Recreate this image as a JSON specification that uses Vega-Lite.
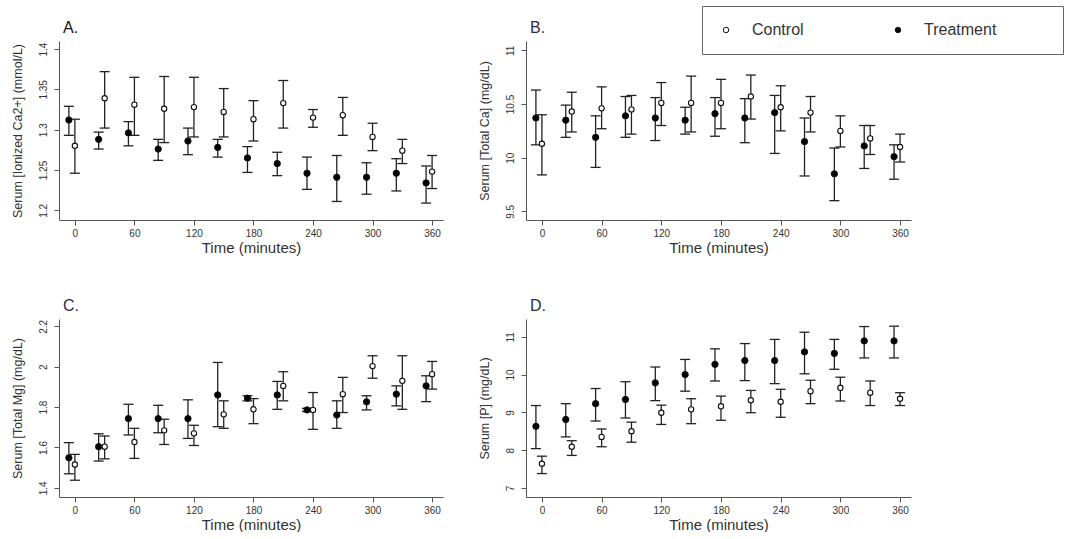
{
"$schema": "https://vega.github.io/schema/vega-lite/v6.json",
"padding": {"left": 11, "top": 5, "right": 0, "bottom": 0},
"background": "white",
"datasets": {
"A": [
{"t":0,"g":"Treatment","m":1.312,"lo":1.293,"hi":1.329},
{"t":30,"g":"Treatment","m":1.288,"lo":1.276,"hi":1.297},
{"t":60,"g":"Treatment","m":1.296,"lo":1.280,"hi":1.310},
{"t":90,"g":"Treatment","m":1.276,"lo":1.262,"hi":1.288},
{"t":120,"g":"Treatment","m":1.286,"lo":1.269,"hi":1.302},
{"t":150,"g":"Treatment","m":1.278,"lo":1.266,"hi":1.288},
{"t":180,"g":"Treatment","m":1.265,"lo":1.247,"hi":1.279},
{"t":210,"g":"Treatment","m":1.258,"lo":1.243,"hi":1.272},
{"t":240,"g":"Treatment","m":1.246,"lo":1.226,"hi":1.266},
{"t":270,"g":"Treatment","m":1.241,"lo":1.211,"hi":1.268},
{"t":300,"g":"Treatment","m":1.241,"lo":1.220,"hi":1.259},
{"t":330,"g":"Treatment","m":1.246,"lo":1.224,"hi":1.264},
{"t":360,"g":"Treatment","m":1.234,"lo":1.209,"hi":1.255},
{"t":0,"g":"Control","m":1.280,"lo":1.246,"hi":1.313},
{"t":30,"g":"Control","m":1.339,"lo":1.302,"hi":1.372},
{"t":60,"g":"Control","m":1.331,"lo":1.293,"hi":1.365},
{"t":90,"g":"Control","m":1.326,"lo":1.284,"hi":1.366},
{"t":120,"g":"Control","m":1.328,"lo":1.291,"hi":1.365},
{"t":150,"g":"Control","m":1.322,"lo":1.291,"hi":1.351},
{"t":180,"g":"Control","m":1.313,"lo":1.286,"hi":1.336},
{"t":210,"g":"Control","m":1.333,"lo":1.302,"hi":1.361},
{"t":240,"g":"Control","m":1.315,"lo":1.303,"hi":1.325},
{"t":270,"g":"Control","m":1.318,"lo":1.293,"hi":1.340},
{"t":300,"g":"Control","m":1.291,"lo":1.274,"hi":1.308},
{"t":330,"g":"Control","m":1.274,"lo":1.258,"hi":1.288},
{"t":360,"g":"Control","m":1.248,"lo":1.227,"hi":1.268}
],
"B": [
{"t":0,"g":"Treatment","m":10.37,"lo":10.12,"hi":10.63},
{"t":30,"g":"Treatment","m":10.35,"lo":10.19,"hi":10.49},
{"t":60,"g":"Treatment","m":10.19,"lo":9.91,"hi":10.39},
{"t":90,"g":"Treatment","m":10.39,"lo":10.19,"hi":10.57},
{"t":120,"g":"Treatment","m":10.37,"lo":10.16,"hi":10.56},
{"t":150,"g":"Treatment","m":10.35,"lo":10.22,"hi":10.47},
{"t":180,"g":"Treatment","m":10.41,"lo":10.20,"hi":10.56},
{"t":210,"g":"Treatment","m":10.37,"lo":10.14,"hi":10.55},
{"t":240,"g":"Treatment","m":10.42,"lo":10.04,"hi":10.58},
{"t":270,"g":"Treatment","m":10.15,"lo":9.83,"hi":10.37},
{"t":300,"g":"Treatment","m":9.85,"lo":9.60,"hi":10.09},
{"t":330,"g":"Treatment","m":10.11,"lo":9.90,"hi":10.30},
{"t":360,"g":"Treatment","m":10.01,"lo":9.80,"hi":10.12},
{"t":0,"g":"Control","m":10.13,"lo":9.84,"hi":10.40},
{"t":30,"g":"Control","m":10.43,"lo":10.24,"hi":10.61},
{"t":60,"g":"Control","m":10.46,"lo":10.27,"hi":10.66},
{"t":90,"g":"Control","m":10.45,"lo":10.22,"hi":10.58},
{"t":120,"g":"Control","m":10.51,"lo":10.30,"hi":10.70},
{"t":150,"g":"Control","m":10.51,"lo":10.24,"hi":10.76},
{"t":180,"g":"Control","m":10.51,"lo":10.27,"hi":10.73},
{"t":210,"g":"Control","m":10.57,"lo":10.36,"hi":10.77},
{"t":240,"g":"Control","m":10.47,"lo":10.25,"hi":10.67},
{"t":270,"g":"Control","m":10.42,"lo":10.24,"hi":10.57},
{"t":300,"g":"Control","m":10.25,"lo":10.10,"hi":10.39},
{"t":330,"g":"Control","m":10.18,"lo":10.03,"hi":10.30},
{"t":360,"g":"Control","m":10.10,"lo":9.96,"hi":10.22}
],
"C": [
{"t":0,"g":"Treatment","m":1.549,"lo":1.470,"hi":1.624},
{"t":30,"g":"Treatment","m":1.604,"lo":1.533,"hi":1.668},
{"t":60,"g":"Treatment","m":1.743,"lo":1.662,"hi":1.814},
{"t":90,"g":"Treatment","m":1.743,"lo":1.673,"hi":1.809},
{"t":120,"g":"Treatment","m":1.743,"lo":1.645,"hi":1.836},
{"t":150,"g":"Treatment","m":1.860,"lo":1.703,"hi":2.021},
{"t":180,"g":"Treatment","m":1.844,"lo":1.831,"hi":1.856},
{"t":210,"g":"Treatment","m":1.860,"lo":1.789,"hi":1.927},
{"t":240,"g":"Treatment","m":1.786,"lo":1.778,"hi":1.794},
{"t":270,"g":"Treatment","m":1.761,"lo":1.695,"hi":1.831},
{"t":300,"g":"Treatment","m":1.826,"lo":1.786,"hi":1.856},
{"t":330,"g":"Treatment","m":1.864,"lo":1.806,"hi":1.905},
{"t":360,"g":"Treatment","m":1.905,"lo":1.827,"hi":1.955},
{"t":0,"g":"Control","m":1.516,"lo":1.438,"hi":1.566},
{"t":30,"g":"Control","m":1.604,"lo":1.544,"hi":1.657},
{"t":60,"g":"Control","m":1.627,"lo":1.546,"hi":1.695},
{"t":90,"g":"Control","m":1.685,"lo":1.615,"hi":1.740},
{"t":120,"g":"Control","m":1.670,"lo":1.610,"hi":1.710},
{"t":150,"g":"Control","m":1.764,"lo":1.695,"hi":1.831},
{"t":180,"g":"Control","m":1.789,"lo":1.718,"hi":1.842},
{"t":210,"g":"Control","m":1.905,"lo":1.831,"hi":1.975},
{"t":240,"g":"Control","m":1.786,"lo":1.690,"hi":1.872},
{"t":270,"g":"Control","m":1.864,"lo":1.773,"hi":1.947},
{"t":300,"g":"Control","m":2.003,"lo":1.943,"hi":2.054},
{"t":330,"g":"Control","m":1.930,"lo":1.789,"hi":2.054},
{"t":360,"g":"Control","m":1.963,"lo":1.889,"hi":2.026}
],
"D": [
{"t":0,"g":"Treatment","m":8.63,"lo":8.04,"hi":9.18},
{"t":30,"g":"Treatment","m":8.81,"lo":8.35,"hi":9.23},
{"t":60,"g":"Treatment","m":9.23,"lo":8.77,"hi":9.63},
{"t":90,"g":"Treatment","m":9.34,"lo":8.85,"hi":9.81},
{"t":120,"g":"Treatment","m":9.78,"lo":9.31,"hi":10.20},
{"t":150,"g":"Treatment","m":10.00,"lo":9.56,"hi":10.40},
{"t":180,"g":"Treatment","m":10.27,"lo":9.83,"hi":10.68},
{"t":210,"g":"Treatment","m":10.37,"lo":9.84,"hi":10.82},
{"t":240,"g":"Treatment","m":10.37,"lo":9.76,"hi":10.93},
{"t":270,"g":"Treatment","m":10.60,"lo":10.02,"hi":11.12},
{"t":300,"g":"Treatment","m":10.56,"lo":10.14,"hi":10.93},
{"t":330,"g":"Treatment","m":10.89,"lo":10.44,"hi":11.27},
{"t":360,"g":"Treatment","m":10.89,"lo":10.44,"hi":11.28},
{"t":0,"g":"Control","m":7.64,"lo":7.38,"hi":7.84},
{"t":30,"g":"Control","m":8.09,"lo":7.86,"hi":8.25},
{"t":60,"g":"Control","m":8.35,"lo":8.09,"hi":8.56},
{"t":90,"g":"Control","m":8.50,"lo":8.21,"hi":8.74},
{"t":120,"g":"Control","m":8.99,"lo":8.68,"hi":9.19},
{"t":150,"g":"Control","m":9.08,"lo":8.70,"hi":9.36},
{"t":180,"g":"Control","m":9.16,"lo":8.79,"hi":9.43},
{"t":210,"g":"Control","m":9.32,"lo":8.99,"hi":9.58},
{"t":240,"g":"Control","m":9.28,"lo":8.87,"hi":9.61},
{"t":270,"g":"Control","m":9.56,"lo":9.23,"hi":9.85},
{"t":300,"g":"Control","m":9.65,"lo":9.30,"hi":9.93},
{"t":330,"g":"Control","m":9.52,"lo":9.18,"hi":9.83},
{"t":360,"g":"Control","m":9.36,"lo":9.18,"hi":9.52}
]
},
"columns": 2,
"spacing": {"row": 43, "column": 34},
"concat": [
{
"width": 384, "height": 179,
"title": {"text": "A.", "color": "#111"},
"data": {"name": "A"},
"encoding": {"x": {"field": "t", "type": "quantitative", "title": "Time (minutes)", "scale": {"domain": [-16, 371], "nice": false, "zero": false}, "axis": {"values": [0,60,120,180,240,300,360]}}},
"layer": [
{"transform": [{"filter": "datum.g == 'Treatment'"}], "mark": {"type": "rule", "xOffset": -6, "color": "#222", "strokeWidth": 1.3}, "encoding": {"y": {"field": "lo", "type": "quantitative", "scale": {"domain": [1.188, 1.41], "nice": false, "zero": false}, "axis": {"values": [1.2,1.25,1.3,1.35,1.4], "format": "~g", "title": "Serum [Ionized Ca2+] (mmol/L)"}}, "y2": {"field": "hi"}}},
{"transform": [{"filter": "datum.g == 'Treatment'"}], "mark": {"type": "tick", "orient": "horizontal", "xOffset": -6, "size": 10, "thickness": 1.3, "color": "#222", "opacity": 1}, "encoding": {"y": {"field": "lo", "type": "quantitative", "scale": {"domain": [1.188, 1.41], "nice": false, "zero": false}}}},
{"transform": [{"filter": "datum.g == 'Treatment'"}], "mark": {"type": "tick", "orient": "horizontal", "xOffset": -6, "size": 10, "thickness": 1.3, "color": "#222", "opacity": 1}, "encoding": {"y": {"field": "hi", "type": "quantitative", "scale": {"domain": [1.188, 1.41], "nice": false, "zero": false}}}},
{"transform": [{"filter": "datum.g == 'Control'"}], "mark": {"type": "rule", "color": "#222", "strokeWidth": 1.3}, "encoding": {"y": {"field": "lo", "type": "quantitative", "scale": {"domain": [1.188, 1.41], "nice": false, "zero": false}}, "y2": {"field": "hi"}}},
{"transform": [{"filter": "datum.g == 'Control'"}], "mark": {"type": "tick", "orient": "horizontal", "size": 10, "thickness": 1.3, "color": "#222", "opacity": 1}, "encoding": {"y": {"field": "lo", "type": "quantitative", "scale": {"domain": [1.188, 1.41], "nice": false, "zero": false}}}},
{"transform": [{"filter": "datum.g == 'Control'"}], "mark": {"type": "tick", "orient": "horizontal", "size": 10, "thickness": 1.3, "color": "#222", "opacity": 1}, "encoding": {"y": {"field": "hi", "type": "quantitative", "scale": {"domain": [1.188, 1.41], "nice": false, "zero": false}}}},
{"transform": [{"filter": "datum.g == 'Treatment'"}], "mark": {"type": "point", "filled": true, "xOffset": -6, "size": 40, "stroke": "#111", "strokeWidth": 1, "opacity": 1}, "encoding": {"y": {"field": "m", "type": "quantitative", "scale": {"domain": [1.188, 1.41], "nice": false, "zero": false}}, "fill": {"field": "g", "type": "nominal", "scale": {"domain": ["Control", "Treatment"], "range": ["white", "black"]}, "legend": {"title": "\u00a0"}}}},
{"transform": [{"filter": "datum.g == 'Control'"}], "mark": {"type": "point", "filled": true, "size": 28, "stroke": "#111", "strokeWidth": 1.1, "opacity": 1}, "encoding": {"y": {"field": "m", "type": "quantitative", "scale": {"domain": [1.188, 1.41], "nice": false, "zero": false}}, "fill": {"field": "g", "type": "nominal", "scale": {"domain": ["Control", "Treatment"], "range": ["white", "black"]}, "legend": {"title": "\u00a0"}}}}
]
},
{
"width": 385, "height": 179,
"title": {"text": "B."},
"data": {"name": "B"},
"encoding": {"x": {"field": "t", "type": "quantitative", "title": "Time (minutes)", "scale": {"domain": [-16, 371], "nice": false, "zero": false}, "axis": {"values": [0,60,120,180,240,300,360]}}},
"layer": [
{"transform": [{"filter": "datum.g == 'Treatment'"}], "mark": {"type": "rule", "xOffset": -6, "color": "#222", "strokeWidth": 1.3}, "encoding": {"y": {"field": "lo", "type": "quantitative", "scale": {"domain": [9.42, 11.087], "nice": false, "zero": false}, "axis": {"values": [9.5,10,10.5,11], "format": "~g", "title": "Serum [Total Ca] (mg/dL)"}}, "y2": {"field": "hi"}}},
{"transform": [{"filter": "datum.g == 'Treatment'"}], "mark": {"type": "tick", "orient": "horizontal", "xOffset": -6, "size": 10, "thickness": 1.3, "color": "#222", "opacity": 1}, "encoding": {"y": {"field": "lo", "type": "quantitative", "scale": {"domain": [9.42, 11.087], "nice": false, "zero": false}}}},
{"transform": [{"filter": "datum.g == 'Treatment'"}], "mark": {"type": "tick", "orient": "horizontal", "xOffset": -6, "size": 10, "thickness": 1.3, "color": "#222", "opacity": 1}, "encoding": {"y": {"field": "hi", "type": "quantitative", "scale": {"domain": [9.42, 11.087], "nice": false, "zero": false}}}},
{"transform": [{"filter": "datum.g == 'Control'"}], "mark": {"type": "rule", "color": "#222", "strokeWidth": 1.3}, "encoding": {"y": {"field": "lo", "type": "quantitative", "scale": {"domain": [9.42, 11.087], "nice": false, "zero": false}}, "y2": {"field": "hi"}}},
{"transform": [{"filter": "datum.g == 'Control'"}], "mark": {"type": "tick", "orient": "horizontal", "size": 10, "thickness": 1.3, "color": "#222", "opacity": 1}, "encoding": {"y": {"field": "lo", "type": "quantitative", "scale": {"domain": [9.42, 11.087], "nice": false, "zero": false}}}},
{"transform": [{"filter": "datum.g == 'Control'"}], "mark": {"type": "tick", "orient": "horizontal", "size": 10, "thickness": 1.3, "color": "#222", "opacity": 1}, "encoding": {"y": {"field": "hi", "type": "quantitative", "scale": {"domain": [9.42, 11.087], "nice": false, "zero": false}}}},
{"transform": [{"filter": "datum.g == 'Treatment'"}], "mark": {"type": "point", "filled": true, "xOffset": -6, "size": 40, "stroke": "#111", "strokeWidth": 1, "opacity": 1}, "encoding": {"y": {"field": "m", "type": "quantitative", "scale": {"domain": [9.42, 11.087], "nice": false, "zero": false}}, "fill": {"field": "g", "type": "nominal", "scale": {"domain": ["Control", "Treatment"], "range": ["white", "black"]}, "legend": {"title": "\u00a0"}}}},
{"transform": [{"filter": "datum.g == 'Control'"}], "mark": {"type": "point", "filled": true, "size": 28, "stroke": "#111", "strokeWidth": 1.1, "opacity": 1}, "encoding": {"y": {"field": "m", "type": "quantitative", "scale": {"domain": [9.42, 11.087], "nice": false, "zero": false}}, "fill": {"field": "g", "type": "nominal", "scale": {"domain": ["Control", "Treatment"], "range": ["white", "black"]}, "legend": {"title": "\u00a0"}}}}
]
},
{
"width": 384, "height": 178,
"title": {"text": "C."},
"data": {"name": "C"},
"encoding": {"x": {"field": "t", "type": "quantitative", "title": "Time (minutes)", "scale": {"domain": [-16, 371], "nice": false, "zero": false}, "axis": {"values": [0,60,120,180,240,300,360]}}},
"layer": [
{"transform": [{"filter": "datum.g == 'Treatment'"}], "mark": {"type": "rule", "xOffset": -6, "color": "#222", "strokeWidth": 1.3}, "encoding": {"y": {"field": "lo", "type": "quantitative", "scale": {"domain": [1.355, 2.236], "nice": false, "zero": false}, "axis": {"values": [1.4,1.6,1.8,2,2.2], "format": "~g", "title": "Serum [Total Mg] (mg/dL)"}}, "y2": {"field": "hi"}}},
{"transform": [{"filter": "datum.g == 'Treatment'"}], "mark": {"type": "tick", "orient": "horizontal", "xOffset": -6, "size": 10, "thickness": 1.3, "color": "#222", "opacity": 1}, "encoding": {"y": {"field": "lo", "type": "quantitative", "scale": {"domain": [1.355, 2.236], "nice": false, "zero": false}}}},
{"transform": [{"filter": "datum.g == 'Treatment'"}], "mark": {"type": "tick", "orient": "horizontal", "xOffset": -6, "size": 10, "thickness": 1.3, "color": "#222", "opacity": 1}, "encoding": {"y": {"field": "hi", "type": "quantitative", "scale": {"domain": [1.355, 2.236], "nice": false, "zero": false}}}},
{"transform": [{"filter": "datum.g == 'Control'"}], "mark": {"type": "rule", "color": "#222", "strokeWidth": 1.3}, "encoding": {"y": {"field": "lo", "type": "quantitative", "scale": {"domain": [1.355, 2.236], "nice": false, "zero": false}}, "y2": {"field": "hi"}}},
{"transform": [{"filter": "datum.g == 'Control'"}], "mark": {"type": "tick", "orient": "horizontal", "size": 10, "thickness": 1.3, "color": "#222", "opacity": 1}, "encoding": {"y": {"field": "lo", "type": "quantitative", "scale": {"domain": [1.355, 2.236], "nice": false, "zero": false}}}},
{"transform": [{"filter": "datum.g == 'Control'"}], "mark": {"type": "tick", "orient": "horizontal", "size": 10, "thickness": 1.3, "color": "#222", "opacity": 1}, "encoding": {"y": {"field": "hi", "type": "quantitative", "scale": {"domain": [1.355, 2.236], "nice": false, "zero": false}}}},
{"transform": [{"filter": "datum.g == 'Treatment'"}], "mark": {"type": "point", "filled": true, "xOffset": -6, "size": 40, "stroke": "#111", "strokeWidth": 1, "opacity": 1}, "encoding": {"y": {"field": "m", "type": "quantitative", "scale": {"domain": [1.355, 2.236], "nice": false, "zero": false}}, "fill": {"field": "g", "type": "nominal", "scale": {"domain": ["Control", "Treatment"], "range": ["white", "black"]}, "legend": {"title": "\u00a0"}}}},
{"transform": [{"filter": "datum.g == 'Control'"}], "mark": {"type": "point", "filled": true, "size": 28, "stroke": "#111", "strokeWidth": 1.1, "opacity": 1}, "encoding": {"y": {"field": "m", "type": "quantitative", "scale": {"domain": [1.355, 2.236], "nice": false, "zero": false}}, "fill": {"field": "g", "type": "nominal", "scale": {"domain": ["Control", "Treatment"], "range": ["white", "black"]}, "legend": {"title": "\u00a0"}}}}
]
},
{
"width": 385, "height": 178,
"title": {"text": "D."},
"data": {"name": "D"},
"encoding": {"x": {"field": "t", "type": "quantitative", "title": "Time (minutes)", "scale": {"domain": [-16, 371], "nice": false, "zero": false}, "axis": {"values": [0,60,120,180,240,300,360]}}},
"layer": [
{"transform": [{"filter": "datum.g == 'Treatment'"}], "mark": {"type": "rule", "xOffset": -6, "color": "#222", "strokeWidth": 1.3}, "encoding": {"y": {"field": "lo", "type": "quantitative", "scale": {"domain": [6.76, 11.47], "nice": false, "zero": false}, "axis": {"values": [7,8,9,10,11], "format": "~g", "title": "Serum [P] (mg/dL)"}}, "y2": {"field": "hi"}}},
{"transform": [{"filter": "datum.g == 'Treatment'"}], "mark": {"type": "tick", "orient": "horizontal", "xOffset": -6, "size": 10, "thickness": 1.3, "color": "#222", "opacity": 1}, "encoding": {"y": {"field": "lo", "type": "quantitative", "scale": {"domain": [6.76, 11.47], "nice": false, "zero": false}}}},
{"transform": [{"filter": "datum.g == 'Treatment'"}], "mark": {"type": "tick", "orient": "horizontal", "xOffset": -6, "size": 10, "thickness": 1.3, "color": "#222", "opacity": 1}, "encoding": {"y": {"field": "hi", "type": "quantitative", "scale": {"domain": [6.76, 11.47], "nice": false, "zero": false}}}},
{"transform": [{"filter": "datum.g == 'Control'"}], "mark": {"type": "rule", "color": "#222", "strokeWidth": 1.3}, "encoding": {"y": {"field": "lo", "type": "quantitative", "scale": {"domain": [6.76, 11.47], "nice": false, "zero": false}}, "y2": {"field": "hi"}}},
{"transform": [{"filter": "datum.g == 'Control'"}], "mark": {"type": "tick", "orient": "horizontal", "size": 10, "thickness": 1.3, "color": "#222", "opacity": 1}, "encoding": {"y": {"field": "lo", "type": "quantitative", "scale": {"domain": [6.76, 11.47], "nice": false, "zero": false}}}},
{"transform": [{"filter": "datum.g == 'Control'"}], "mark": {"type": "tick", "orient": "horizontal", "size": 10, "thickness": 1.3, "color": "#222", "opacity": 1}, "encoding": {"y": {"field": "hi", "type": "quantitative", "scale": {"domain": [6.76, 11.47], "nice": false, "zero": false}}}},
{"transform": [{"filter": "datum.g == 'Treatment'"}], "mark": {"type": "point", "filled": true, "xOffset": -6, "size": 40, "stroke": "#111", "strokeWidth": 1, "opacity": 1}, "encoding": {"y": {"field": "m", "type": "quantitative", "scale": {"domain": [6.76, 11.47], "nice": false, "zero": false}}, "fill": {"field": "g", "type": "nominal", "scale": {"domain": ["Control", "Treatment"], "range": ["white", "black"]}, "legend": {"title": "\u00a0"}}}},
{"transform": [{"filter": "datum.g == 'Control'"}], "mark": {"type": "point", "filled": true, "size": 28, "stroke": "#111", "strokeWidth": 1.1, "opacity": 1}, "encoding": {"y": {"field": "m", "type": "quantitative", "scale": {"domain": [6.76, 11.47], "nice": false, "zero": false}}, "fill": {"field": "g", "type": "nominal", "scale": {"domain": ["Control", "Treatment"], "range": ["white", "black"]}, "legend": {"title": "\u00a0"}}}}
]
}
],
"config": {
"view": {"stroke": null},
"font": "Liberation Sans",
"axis": {"grid": false, "domainColor": "#555", "tickColor": "#555", "tickSize": 5, "labelFontSize": 10, "labelColor": "#333", "titleColor": "#333", "titleFontWeight": "normal", "labelFont": "Liberation Sans", "titleFont": "Liberation Sans"},
"axisX": {"titleFontSize": 15, "labelPadding": 3, "titlePadding": 2},
"axisY": {"titleFontSize": 12.5, "labelAngle": 270, "labelPadding": 6, "titlePadding": 14},
"title": {"anchor": "start", "frame": "group", "fontSize": 16, "fontWeight": "normal", "color": "#2b2b4b", "offset": 5, "dx": 4},
"legend": {"orient": "none", "legendX": 643, "legendY": -35, "direction": "horizontal", "titleOrient": "right", "titlePadding": 51, "titleFontSize": 16, "strokeColor": "#666", "padding": 16, "labelFontSize": 16, "labelColor": "#333", "symbolType": "circle", "symbolSize": 30, "symbolStrokeColor": "#111", "symbolStrokeWidth": 1, "labelOffset": 18, "columnPadding": 86}
}
}
